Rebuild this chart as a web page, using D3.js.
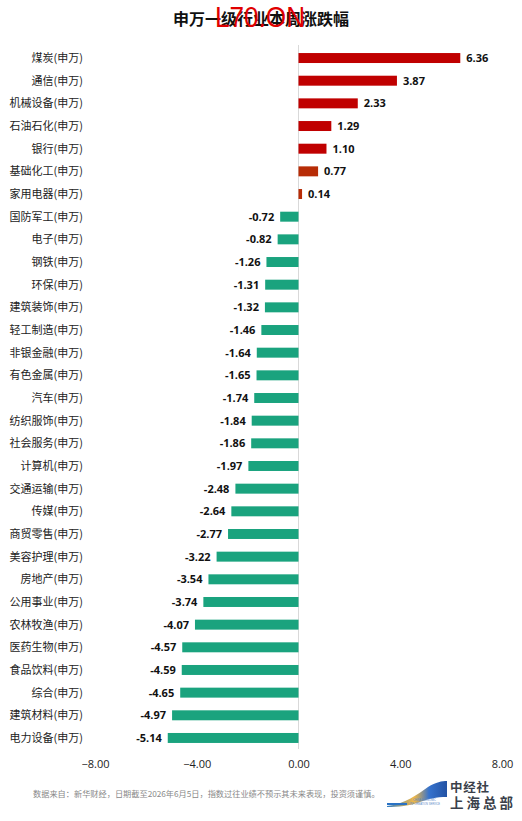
<!DOCTYPE html>
<html><head><meta charset="utf-8">
<script src="https://cdn.jsdelivr.net/npm/d3@7/dist/d3.min.js"></script>
<style>body{margin:0;background:#fff}svg{display:block}</style>
</head><body>
<script>
const categories = ["煤炭(申万)","通信(申万)","机械设备(申万)","石油石化(申万)","银行(申万)","基础化工(申万)","家用电器(申万)","国防军工(申万)","电子(申万)","钢铁(申万)","环保(申万)","建筑装饰(申万)","轻工制造(申万)","非银金融(申万)","有色金属(申万)","汽车(申万)","纺织服饰(申万)","社会服务(申万)","计算机(申万)","交通运输(申万)","传媒(申万)","商贸零售(申万)","美容护理(申万)","房地产(申万)","公用事业(申万)","农林牧渔(申万)","医药生物(申万)","食品饮料(申万)","综合(申万)","建筑材料(申万)","电力设备(申万)"];
const values = [6.36,3.87,2.33,1.29,1.10,0.77,0.14,-0.72,-0.82,-1.26,-1.31,-1.32,-1.46,-1.64,-1.65,-1.74,-1.84,-1.86,-1.97,-2.48,-2.64,-2.77,-3.22,-3.54,-3.74,-4.07,-4.57,-4.59,-4.65,-4.97,-5.14];
const tickValues = [-8,-4,0,4,8];
const title = "申万一级行业本周涨跌幅";
const footnote = "数据来自：新华财经，日期截至2026年6月5日，指数过往业绩不预示其未来表现，投资须谨慎。";

const W = 522, H = 821;
const svg = d3.select("body").append("svg").attr("width", W).attr("height", H);
const font = "'Noto Sans CJK SC','Microsoft YaHei',sans-serif";

const x = d3.scaleLinear().domain([-8, 8]).range([95, 502]);
const y = d3.scaleBand().domain(categories).range([46.7, 749.3]).paddingInner(0.56).paddingOuter(0.28);

svg.append("text").attr("x", 261).attr("y", 24.5).attr("text-anchor", "middle")
  .attr("font-family", font).attr("font-size", 16).attr("font-weight", "bold").attr("fill", "#111").text(title);
svg.append("text").attr("x", 215).attr("y", 27)
  .attr("font-family", "'Liberation Sans Narrow','Liberation Sans',Arial,sans-serif").attr("font-size", 29)
  .attr("textLength", 90).attr("lengthAdjust", "spacingAndGlyphs").attr("fill", "#e00000").text("L70.ON");

// zero line
svg.append("line").attr("x1", x(0)).attr("x2", x(0)).attr("y1", 45).attr("y2", 749)
  .attr("stroke", "#d9d9d9").attr("stroke-width", 1);

function color(v){ if (v < 0) return "#1aa37e"; if (v < 1) return "#b72c06"; return "#c00000"; }

svg.append("g").selectAll("rect").data(values).join("rect")
  .attr("x", d => Math.min(x(0), x(d)))
  .attr("width", d => Math.abs(x(d) - x(0)))
  .attr("y", (d, i) => y(categories[i]))
  .attr("height", y.bandwidth())
  .attr("fill", d => color(d));

svg.append("g").selectAll("text").data(values).join("text")
  .attr("x", d => d >= 0 ? x(d) + 6 : x(d) - 6)
  .attr("y", (d, i) => y(categories[i]) + y.bandwidth() / 2)
  .attr("dy", "0.36em")
  .attr("text-anchor", d => d >= 0 ? "start" : "end")
  .attr("font-family", "'Open Sans',sans-serif").attr("font-size", 11).attr("font-weight", "bold").attr("fill", "#111")
  .text(d => d.toFixed(2));

svg.append("g").selectAll("text").data(categories).join("text")
  .attr("x", 83)
  .attr("y", d => y(d) + y.bandwidth() / 2)
  .attr("dy", "0.36em")
  .attr("text-anchor", "end")
  .attr("font-family", font).attr("font-size", 11).attr("fill", "#222")
  .text(d => d);

const axis = d3.axisBottom(x).tickValues(tickValues).tickSize(0).tickFormat(d3.format(".2f"));
const ag = svg.append("g").attr("transform", "translate(0,757)").call(axis);
ag.select(".domain").remove();
ag.selectAll("text").attr("font-family", "'Open Sans',sans-serif").attr("font-size", 11).attr("fill", "#222");

svg.append("text").attr("x", 33).attr("y", 796.5).attr("font-family", font).attr("font-size", 8.2).attr("fill", "#888").text(footnote);

// logo
const lg = svg.append("g");
const grad = svg.append("defs").append("linearGradient").attr("id", "sw").attr("x1", "0").attr("x2", "1");
grad.append("stop").attr("offset", "0").attr("stop-color", "#1a6fc0");
grad.append("stop").attr("offset", "0.45").attr("stop-color", "#f0b030");
grad.append("stop").attr("offset", "0.7").attr("stop-color", "#1f63c8");
grad.append("stop").attr("offset", "1").attr("stop-color", "#0a3f9a");
lg.append("path").attr("d", "M387,806 C405,804 418,794 428,787 C436,782 442,781 447,781 L447,797 C436,797 428,799 420,802 C410,806 398,807 387,807 Z").attr("fill", "url(#sw)").attr("opacity", 0.9);
lg.append("rect").attr("x", 387).attr("y", 803).attr("width", 20).attr("height", 2).attr("fill", "#2a72c4");
const small = lg.append("text").attr("font-family", "'Liberation Sans',sans-serif").attr("font-size", 2.6).attr("fill", "#5a8ac8");
small.append("tspan").attr("x", 413).attr("y", 801).text("CHINA ECONOMIC");
small.append("tspan").attr("x", 410).attr("y", 805).text("INFORMATION SERVICE");
const brand = lg.append("text").attr("font-family", font).attr("font-weight", "bold").attr("fill", "#3a3f4a");
brand.append("tspan").attr("x", 450).attr("y", 792).attr("font-size", 12.5).attr("letter-spacing", 0.8).text("中经社");
brand.append("tspan").attr("x", 450).attr("y", 808).attr("font-size", 13.5).attr("letter-spacing", 3).text("上海总部");
</script>
</body></html>
